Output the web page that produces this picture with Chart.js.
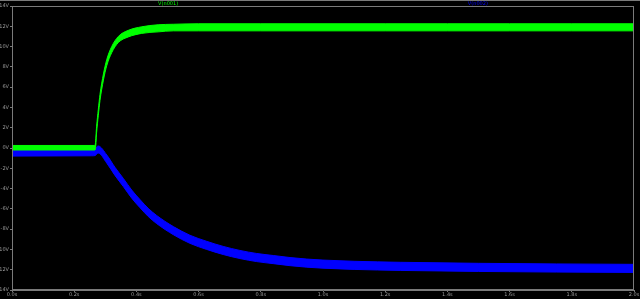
<!DOCTYPE html>
<html>
<head>
<meta charset="utf-8">
<script src="https://cdn.jsdelivr.net/npm/chart.js@4/dist/chart.umd.min.js"></script>
<style>
html,body{margin:0;padding:0;background:#000;}
#wrap{width:640px;height:299px;position:relative;}
</style>
</head>
<body>
<div id="wrap"><canvas id="c" width="640" height="299"></canvas></div>
<script>
// time axis (seconds) and values (volts)
const greenTime = [0, 0.266, 0.268, 0.272, 0.2775, 0.283, 0.294, 0.3045, 0.3206, 0.342, 0.374, 0.417, 0.47, 0.519, 0.6, 0.8, 1.0, 1.2, 1.4, 1.6, 1.8, 2.0];
const greenHigh = [0.25, 0.25, 0.4, 2.1, 3.8, 5.3, 7.3, 8.7, 10.0, 11.0, 11.6, 11.95, 12.15, 12.2, 12.25, 12.25, 12.25, 12.25, 12.25, 12.25, 12.25, 12.25];
const greenLow  = [-0.2, -0.2, -0.15, 1.5, 3.2, 4.7, 6.7, 8.1, 9.4, 10.4, 10.95, 11.3, 11.45, 11.55, 11.55, 11.55, 11.55, 11.55, 11.55, 11.55, 11.55, 11.55];

const blueTime = [0, 0.256, 0.267, 0.277, 0.305, 0.331, 0.358, 0.385, 0.412, 0.438, 0.465, 0.519, 0.572, 0.626, 0.679, 0.733, 0.787, 0.84, 0.894, 0.948, 1.0, 1.1, 1.25, 1.5, 1.75, 2.0];
const blueHigh = [-0.2, -0.17, -0.05, 0.2, -0.7, -1.9, -3.0, -4.15, -5.1, -5.95, -6.65, -7.75, -8.6, -9.2, -9.7, -10.1, -10.4, -10.6, -10.8, -10.95, -11.05, -11.17, -11.27, -11.37, -11.43, -11.47];
const blueLow  = [-0.8, -0.77, -0.75, -0.5, -1.5, -2.7, -3.8, -4.95, -5.9, -6.75, -7.45, -8.55, -9.4, -10.0, -10.5, -10.9, -11.2, -11.4, -11.6, -11.75, -11.85, -11.97, -12.07, -12.17, -12.23, -12.27];

const xTickStep = 0.2;
const yTickStep = 2;
const traceNames = ["V(n001)", "V(n002)"];
const traceColors = ["#00ff00", "#0000ff"];

function pts(t, v){ return t.map((x,i)=>({x:x, y:v[i]})); }

const frameColor = "#7a7a7a";
const tickColor = "#9a9a9a";

const framePlugin = {
  id: 'frame',
  afterDraw(chart){
    const ctx = chart.ctx, a = chart.chartArea;
    ctx.save();
    ctx.strokeStyle = frameColor;
    ctx.lineWidth = 1;
    ctx.strokeRect(Math.round(a.left)+0.5, Math.round(a.top)+0.5, Math.round(a.right-a.left)-1, Math.round(a.bottom-a.top)-1);
    ctx.beginPath();
    ctx.moveTo(0, 0.5); ctx.lineTo(640, 0.5);
    ctx.stroke();
    ctx.font = "5px 'DejaVu Sans'";
    ctx.textAlign = "center";
    ctx.textBaseline = "middle";
    const w = a.right - a.left;
    ctx.fillStyle = traceColors[0];
    ctx.fillText(traceNames[0], a.left + w*0.251, 3.5);
    ctx.fillStyle = traceColors[1];
    ctx.fillText(traceNames[1], a.left + w*0.749, 3.5);
    ctx.restore();
  }
};

new Chart(document.getElementById('c'), {
  type: 'line',
  data: {
    datasets: [
      {label: traceNames[0]+' hi', data: pts(greenTime, greenHigh), borderColor: traceColors[0], borderWidth: 1, fill: false, pointRadius: 0, cubicInterpolationMode: 'monotone'},
      {label: traceNames[0]+' lo', data: pts(greenTime, greenLow), borderColor: traceColors[0], backgroundColor: traceColors[0], borderWidth: 1, fill: 0, pointRadius: 0, cubicInterpolationMode: 'monotone'},
      {label: traceNames[1]+' hi', data: pts(blueTime, blueHigh), borderColor: traceColors[1], borderWidth: 1, fill: false, pointRadius: 0, cubicInterpolationMode: 'monotone'},
      {label: traceNames[1]+' lo', data: pts(blueTime, blueLow), borderColor: traceColors[1], backgroundColor: traceColors[1], borderWidth: 1, fill: 2, pointRadius: 0, cubicInterpolationMode: 'monotone'}
    ]
  },
  options: {
    responsive: false,
    animation: false,
    layout: {padding: {top: 6, right: 6, left: 0, bottom: 0}},
    plugins: {legend: {display: false}, tooltip: {enabled: false}},
    scales: {
      x: {
        type: 'linear', min: 0, max: 2,
        afterFit(s){ s.height = 9; },
        ticks: {stepSize: xTickStep, autoSkip: false, maxRotation: 0, padding: 0,
          color: tickColor, font: {size: 5, family: 'DejaVu Sans'},
          callback: v => v.toFixed(1) + 's'},
        grid: {drawOnChartArea: false, tickLength: 2, color: frameColor},
        border: {color: frameColor}
      },
      y: {
        type: 'linear', min: -14, max: 14,
        afterFit(s){ s.width = 12; },
        ticks: {stepSize: yTickStep, autoSkip: false, padding: 1,
          color: tickColor, font: {size: 5, family: 'DejaVu Sans'},
          callback: v => Math.round(v) + 'V'},
        grid: {drawOnChartArea: false, tickLength: 2, color: frameColor},
        border: {color: frameColor}
      }
    }
  },
  plugins: [framePlugin]
});
</script>
</body>
</html>
